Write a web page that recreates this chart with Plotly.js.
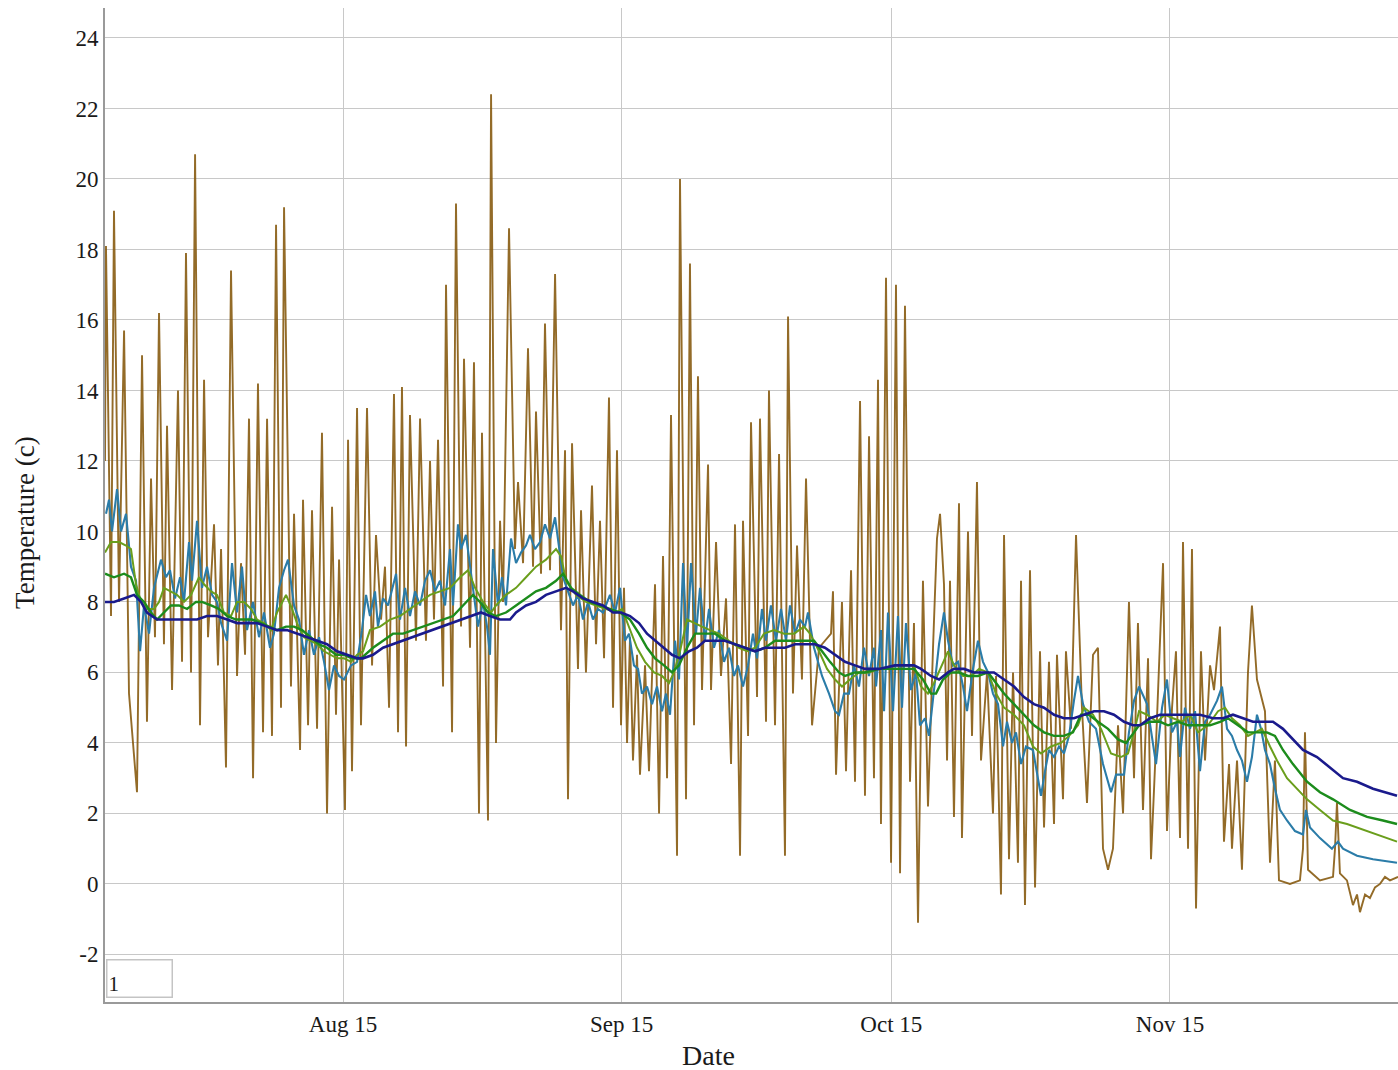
<!DOCTYPE html>
<html>
<head>
<meta charset="utf-8">
<script src="https://cdn.plot.ly/plotly-3.0.1.min.js"></script>
<style>html,body{margin:0;padding:0;background:#fff;}#chart{width:1398px;height:1070px;}</style>
</head>
<body>
<div id="chart"></div>
<script>
// Day numbers are days since 1 July (1 July 00:00 = 0)
const airDay = [18.52,18.63,19.19,19.52,20.08,20.64,21.19,22.08,22.64,23.19,23.64,24.08,24.53,25.08,25.42,25.98,26.64,27.09,27.53,28.09,28.54,29.09,29.54,29.98,30.65,31.09,31.43,31.98,32.54,33.21,33.65,34.10,34.54,34.99,35.54,36.10,36.55,37.10,37.55,38.10,38.44,39.21,39.55,40.22,40.55,41.11,41.55,42.11,42.66,43.22,43.78,44.22,44.56,45.22,45.56,46.00,46.56,47.00,47.67,48.23,48.67,49.23,49.67,50.12,50.67,51.12,51.56,52.01,52.45,53.12,53.57,54.23,54.68,55.12,55.57,56.13,56.46,57.13,57.57,58.13,58.46,59.13,59.57,60.13,60.46,61.13,61.47,62.02,62.47,62.80,63.47,64.13,64.47,65.03,65.58,66.14,66.47,67.03,67.47,68.03,68.59,69.25,69.70,70.03,70.48,71.14,71.48,72.03,72.70,73.15,73.59,74.04,74.59,75.04,75.48,75.93,76.26,76.60,76.93,77.26,77.71,78.04,78.60,79.04,79.71,80.16,80.60,81.05,81.49,82.16,82.49,83.16,83.60,84.05,84.49,84.94,85.61,85.94,86.50,87.05,87.61,88.17,88.61,89.17,89.50,90.06,90.39,91.06,91.39,92.06,92.39,93.06,93.51,94.17,94.51,95.06,95.51,96.06,96.51,97.18,97.96,99.29,99.51,99.85,100.51,100.96,101.52,101.96,102.52,103.07,103.52,104.07,104.52,104.85,105.41,105.97,106.52,106.97,107.52,108.08,108.52,108.97,109.52,110.08,110.64,111.08,111.42,111.86,112.20,112.53,112.97,113.53,113.86,114.53,114.98,115.53,115.98,116.65,117.31,117.65,118.20,118.54,119.09,119.54,120.09,120.43,120.87,121.43,121.99,122.54,122.99,123.54,124.10,124.43,125.10,125.43,125.99,126.55,127.21,127.77,128.44,128.99,129.55,130.11,130.66,131.22,131.78,132.44,133.00,133.44,134.00,134.56,134.89,135.45,136.23,136.67,137.23,137.67,138.12,138.45,139.01,139.45,139.90,140.45,140.90,141.46,141.90,142.57,143.01,143.57,143.90,144.46,145.01,145.68,146.12,146.68,147.57,148.13,148.68,149.13,150.35,151.46,151.80,152.02,152.36,153.69,155.14,155.36,155.58,155.91,156.69,157.36,157.81,158.14,158.70,159.25,159.81,160.37,160.92,161.48,162.37];
const airTemp = [12.0,18.1,7.6,19.1,8.0,15.7,5.4,2.6,15.0,4.6,11.5,7.0,16.2,6.8,13.0,5.5,14.0,6.3,17.9,6.0,20.7,4.5,14.3,7.0,10.2,6.2,9.5,3.3,17.4,5.9,9.1,6.5,13.2,3.0,14.2,4.3,13.2,4.2,18.7,5.0,19.2,5.6,10.5,3.8,10.9,4.5,10.6,4.4,12.8,2.0,10.7,4.8,9.2,2.1,12.6,3.2,13.5,4.5,13.5,6.2,9.9,7.5,9.0,5.0,13.9,4.3,14.1,3.9,13.3,6.9,13.2,6.9,12.0,7.5,12.6,5.6,17.0,4.3,19.3,7.3,14.9,6.7,14.8,2.0,12.8,1.8,22.4,4.0,10.3,8.0,18.6,9.5,11.4,9.1,15.2,9.0,13.4,8.8,15.9,8.9,17.3,7.2,12.3,2.4,12.5,6.1,10.6,6.0,11.3,6.8,10.3,6.4,13.8,5.0,12.3,4.5,8.4,4.0,7.0,3.5,6.5,3.1,6.2,3.2,8.5,2.0,9.3,3.0,13.3,0.8,20.0,2.4,17.6,4.5,14.4,5.5,11.9,5.5,9.7,5.9,8.1,3.4,10.2,0.8,10.3,4.2,13.1,5.3,13.2,4.6,14.0,4.5,12.2,0.8,16.1,5.4,9.6,5.8,11.5,4.5,6.7,7.1,8.3,3.1,8.0,3.2,8.9,2.9,13.7,2.5,12.7,3.0,14.3,1.7,17.2,0.6,17.0,0.3,16.4,2.9,7.4,-1.1,8.6,2.2,6.7,9.8,10.5,8.5,3.5,8.6,1.9,10.8,1.3,10.0,4.2,11.4,3.5,6.0,2.0,5.9,-0.3,9.9,0.7,6.0,0.6,8.6,-0.6,8.9,-0.1,6.6,1.6,6.3,1.7,6.5,2.4,6.6,4.4,9.9,5.0,2.3,6.5,6.7,1.0,0.4,1.0,4.5,2.0,8.0,3.0,7.4,2.1,6.4,0.7,4.0,9.1,1.5,5.0,6.6,1.3,9.7,1.0,9.5,-0.7,6.6,3.5,6.2,5.5,7.3,1.2,3.4,1.0,3.5,0.4,6.0,7.9,5.8,4.9,0.6,3.5,0.1,0.0,0.1,1.0,4.3,0.4,0.1,0.2,1.0,2.3,0.3,0.1,-0.6,-0.3,-0.8,-0.3,-0.4,-0.1,0.0,0.2,0.1,0.2];

const soil1Day = [18.63,18.97,19.30,19.86,20.30,20.86,21.41,21.97,22.42,22.86,23.42,23.97,24.75,25.31,25.75,26.31,26.87,27.31,27.87,28.20,28.76,29.31,29.87,30.43,30.98,31.43,32.10,32.65,33.21,33.76,34.32,34.99,35.66,36.21,36.88,37.32,37.88,38.44,38.88,39.55,40.10,40.66,41.22,41.77,42.33,42.89,43.44,44.00,44.56,45.11,45.89,46.56,47.11,47.56,48.00,48.56,48.89,49.45,50.01,50.90,51.34,51.90,52.45,53.01,53.57,54.12,54.68,55.24,55.79,56.35,56.90,57.24,57.79,58.13,58.68,59.13,59.69,60.02,60.58,61.02,61.35,61.69,62.24,62.69,63.13,63.69,64.25,64.80,65.36,65.80,66.36,66.92,67.47,68.03,68.59,69.03,69.48,70.03,70.59,71.14,71.70,72.26,72.81,73.37,73.93,74.70,75.26,75.82,76.37,76.82,77.37,77.82,78.26,78.82,79.38,79.93,80.49,80.93,81.38,81.94,82.38,82.83,83.27,83.72,84.27,84.72,85.27,85.72,86.27,86.83,87.39,87.94,88.50,88.94,89.50,90.06,90.61,91.06,91.61,92.06,92.61,93.17,93.73,94.28,94.73,95.29,95.84,96.40,96.73,97.40,98.29,99.07,99.74,100.18,100.74,101.29,101.85,102.40,102.96,103.52,104.07,104.30,104.85,105.19,105.63,106.19,106.74,107.19,107.63,108.19,108.75,109.19,109.75,110.19,110.75,111.31,111.86,112.31,112.86,113.42,113.98,114.42,115.09,115.64,116.20,116.76,117.31,117.87,118.43,118.87,119.43,119.87,120.43,120.98,121.76,122.21,122.65,123.10,123.54,124.10,124.65,125.21,125.77,126.32,126.77,127.33,127.99,128.77,129.55,130.44,131.00,131.89,132.44,133.00,133.56,134.45,135.45,136.12,136.67,137.23,137.79,138.12,138.67,139.23,139.79,140.34,140.90,141.46,142.24,142.79,143.35,143.90,144.46,145.01,145.57,146.12,146.68,147.13,147.57,148.13,148.68,149.24,150.02,150.91,151.80,152.13,152.58,153.69,155.02,155.69,156.25,157.81,159.59,162.26];
const soil1Temp = [10.5,10.9,10.0,11.2,10.0,10.5,9.0,8.6,6.6,7.9,7.1,8.4,9.2,8.7,8.9,8.1,8.7,8.0,9.7,8.6,10.3,8.4,9.0,8.2,8.0,7.4,6.9,9.1,7.7,9.0,7.2,8.0,7.0,7.7,6.7,7.1,8.4,8.9,9.2,7.9,7.5,6.5,7.2,6.5,7.0,6.3,5.5,6.2,5.9,5.8,6.2,6.3,7.2,8.2,7.6,8.3,7.3,8.1,7.9,8.8,7.5,8.4,7.6,8.3,7.9,8.6,8.9,8.3,8.6,7.9,9.5,7.9,10.2,9.5,9.9,9.0,8.0,7.3,8.0,7.3,6.5,9.5,7.9,8.7,7.9,9.8,9.1,9.4,9.6,9.9,9.5,9.7,10.2,9.8,10.4,9.5,8.7,8.3,7.9,8.2,7.5,8.0,7.5,7.8,7.7,8.2,7.7,8.4,6.9,7.1,6.2,6.1,5.4,5.6,5.1,5.6,4.9,5.4,4.8,6.9,5.8,9.1,6.7,9.1,7.1,8.4,6.9,7.8,6.7,7.2,6.3,6.7,5.9,6.2,5.6,6.2,7.1,6.4,7.8,6.9,7.9,6.9,7.8,6.9,7.9,7.1,7.5,7.3,7.7,6.7,5.9,5.4,4.9,4.8,5.4,5.4,6.2,5.6,6.7,5.9,6.7,5.6,7.2,4.9,7.7,4.9,7.6,5.0,7.4,5.5,6.0,4.5,4.7,4.2,5.6,6.8,7.7,6.9,6.2,6.3,5.6,4.9,6.1,6.9,6.3,6.0,5.4,5.1,3.9,4.6,4.0,4.3,3.4,3.9,3.8,3.1,2.5,3.2,3.8,3.6,3.9,3.7,4.2,5.2,5.9,5.1,4.6,4.4,3.4,2.6,3.1,3.1,4.3,5.2,5.6,5.1,3.4,5.0,5.8,4.3,4.6,3.6,5.0,4.4,4.9,3.2,4.6,4.8,5.2,5.6,4.4,4.2,3.8,3.5,2.9,3.6,4.8,4.4,3.8,3.4,2.7,2.1,1.8,1.5,1.4,2.1,1.6,1.3,1.0,1.2,1.0,0.8,0.7,0.6];

const soil2Day = [18.52,19.19,20.08,20.86,21.41,21.97,22.53,23.19,23.97,24.53,25.08,25.86,26.53,27.31,28.09,28.98,29.54,30.31,30.98,31.76,32.54,33.21,33.99,34.77,35.43,36.21,36.99,37.66,38.66,39.33,39.88,40.66,41.44,42.11,42.89,43.67,44.33,45.11,45.89,46.56,47.23,48.00,49.12,50.23,51.34,52.45,53.57,54.68,55.79,56.90,58.02,58.91,59.69,60.58,61.47,62.02,63.13,64.25,65.36,66.47,67.58,68.70,69.25,69.81,70.92,72.03,73.15,74.26,75.37,76.04,76.82,77.71,78.60,79.60,80.49,81.27,81.82,82.49,83.27,84.05,84.94,85.83,86.83,87.94,89.06,89.95,90.84,91.84,92.95,94.06,95.17,96.29,96.95,97.96,98.85,99.74,100.51,101.40,102.40,103.52,104.63,106.41,108.52,109.30,110.08,110.75,111.75,112.31,112.97,113.98,114.87,115.76,116.76,117.65,118.54,119.65,120.76,121.76,122.65,123.77,124.88,125.77,126.77,127.44,128.44,129.33,130.44,131.55,132.33,133.00,133.56,134.45,135.56,136.45,137.34,138.34,139.23,140.12,141.23,142.35,143.13,143.90,144.79,145.68,146.46,147.24,148.13,148.91,150.02,151.13,152.25,153.69,155.14,156.70,158.93,161.15,162.26];
const soil2Temp = [9.4,9.7,9.7,9.6,9.5,8.5,8.0,7.8,7.8,8.0,8.4,8.3,8.2,8.0,8.2,8.7,8.5,8.3,8.2,7.7,7.6,8.0,8.0,7.8,7.5,7.4,7.2,7.7,8.2,7.8,7.4,7.0,6.9,6.8,6.6,6.5,6.4,6.4,6.3,6.5,6.6,7.2,7.3,7.5,7.6,7.8,8.0,8.2,8.3,8.4,8.7,8.9,8.4,8.0,7.7,7.9,8.2,8.4,8.7,9.0,9.2,9.5,9.3,8.6,8.2,8.0,7.9,7.8,7.7,7.8,7.3,6.7,6.3,6.0,5.9,5.7,6.0,6.6,7.5,7.4,7.3,7.2,7.1,6.9,6.7,6.6,6.7,7.1,7.2,7.1,7.1,7.3,7.1,6.6,6.1,5.8,5.6,5.8,6.0,6.0,6.1,6.2,6.2,5.6,5.4,5.7,6.3,6.6,6.2,5.9,5.9,6.1,6.0,5.4,5.0,4.8,4.5,3.9,3.7,3.9,4.0,4.2,4.5,5.0,4.8,4.4,3.7,3.6,3.7,4.3,4.9,4.8,4.6,4.8,4.7,4.6,4.8,4.3,4.5,4.9,5.0,4.7,4.5,4.2,4.3,4.4,3.9,3.5,3.0,2.7,2.4,2.1,1.8,1.7,1.5,1.3,1.2];

const soil3Day = [18.52,19.52,20.64,21.41,22.08,22.86,23.64,24.31,25.08,25.86,26.76,27.65,28.65,29.31,30.31,31.21,32.10,33.10,33.99,34.88,35.88,36.77,37.66,38.66,39.55,40.44,41.44,42.33,43.22,44.22,45.11,46.00,47.00,48.34,49.45,50.56,51.68,52.79,53.90,55.01,56.13,57.24,58.35,59.46,60.24,61.13,62.02,63.13,64.25,65.36,66.47,67.58,68.70,69.48,70.37,71.37,72.48,73.59,74.70,75.81,76.93,77.93,78.82,79.71,80.71,81.60,82.38,83.27,84.16,85.27,86.39,87.50,88.61,89.72,90.84,91.95,93.06,94.17,95.29,96.40,97.40,98.29,99.18,100.18,100.85,101.96,103.07,104.63,106.41,108.52,109.52,110.41,110.97,111.75,112.64,113.53,114.53,115.64,116.76,117.65,118.54,119.65,120.76,121.87,122.99,124.10,125.21,126.21,127.10,127.99,128.99,130.11,131.22,132.11,133.00,133.56,134.78,135.90,136.79,137.90,139.01,140.12,141.46,142.57,143.46,144.57,145.68,146.68,147.79,148.68,149.57,150.68,152.25,153.69,155.14,157.03,158.93,160.70,162.26];
const soil3Temp = [8.8,8.7,8.8,8.7,8.2,8.0,7.7,7.5,7.7,7.9,7.9,7.8,8.0,8.0,7.9,7.8,7.6,7.5,7.5,7.5,7.4,7.3,7.2,7.3,7.3,7.2,7.0,6.8,6.7,6.5,6.5,6.4,6.4,6.7,6.9,7.1,7.1,7.2,7.3,7.4,7.5,7.6,7.9,8.2,8.0,7.7,7.6,7.7,7.9,8.1,8.3,8.4,8.6,8.8,8.4,8.2,8.0,7.9,7.8,7.7,7.5,7.1,6.7,6.4,6.2,6.0,6.2,6.7,7.1,7.1,7.1,6.9,6.8,6.7,6.6,6.7,6.9,6.9,6.9,6.9,6.9,6.6,6.3,6.0,5.9,6.0,6.0,6.1,6.1,6.1,5.8,5.4,5.4,5.8,6.0,6.0,5.9,5.9,6.0,5.7,5.4,5.1,4.8,4.5,4.3,4.2,4.2,4.3,4.8,4.8,4.6,4.4,4.1,4.0,4.3,4.5,4.6,4.6,4.5,4.6,4.5,4.5,4.5,4.6,4.7,4.5,4.3,4.3,4.3,4.2,3.8,3.4,2.9,2.6,2.4,2.1,1.9,1.8,1.7];

const soil4Day = [18.52,19.52,20.64,21.75,22.53,23.19,24.31,25.42,26.53,27.65,28.76,29.87,30.98,32.10,33.21,34.32,35.43,36.55,37.66,38.77,39.88,40.99,42.11,43.22,44.33,45.45,46.56,47.23,48.34,49.45,50.56,51.68,52.79,53.90,55.01,56.13,57.24,58.35,59.46,60.35,61.35,62.47,63.58,64.25,65.36,66.47,67.58,68.70,69.81,70.59,71.70,72.81,73.93,75.04,75.93,76.93,77.93,78.82,79.71,80.71,81.60,82.49,83.49,84.38,85.27,86.39,87.50,88.61,89.72,90.84,91.95,93.06,94.17,95.29,96.40,97.51,98.62,99.74,100.85,101.96,103.07,104.63,106.41,108.52,109.30,110.41,111.31,112.31,112.97,114.09,115.20,116.31,117.42,118.54,119.65,120.76,121.87,122.99,124.10,125.21,126.32,127.44,128.55,129.66,130.77,131.89,132.89,133.67,134.78,135.90,137.34,138.90,140.34,141.79,142.90,144.01,145.12,146.23,147.35,148.46,149.57,150.68,151.80,153.36,154.80,156.25,157.81,159.59,162.26];
const soil4Temp = [8.0,8.0,8.1,8.2,8.0,7.7,7.5,7.5,7.5,7.5,7.5,7.6,7.6,7.5,7.4,7.4,7.4,7.3,7.2,7.2,7.1,7.0,6.9,6.8,6.6,6.5,6.4,6.4,6.5,6.7,6.8,6.9,7.0,7.1,7.2,7.3,7.4,7.5,7.6,7.7,7.6,7.5,7.5,7.7,7.9,8.0,8.2,8.3,8.4,8.3,8.1,8.0,7.9,7.7,7.7,7.6,7.4,7.1,6.9,6.7,6.5,6.4,6.6,6.7,6.9,6.9,6.9,6.8,6.7,6.6,6.7,6.7,6.7,6.8,6.8,6.8,6.7,6.5,6.3,6.2,6.1,6.1,6.2,6.2,6.1,5.9,5.8,6.0,6.1,6.1,6.0,6.0,6.0,5.8,5.6,5.3,5.1,5.0,4.8,4.7,4.7,4.8,4.9,4.9,4.8,4.6,4.5,4.5,4.7,4.8,4.8,4.8,4.8,4.7,4.7,4.8,4.7,4.6,4.6,4.6,4.4,4.1,3.8,3.6,3.3,3.0,2.9,2.7,2.5];

const yTicks = [-2,0,2,4,6,8,10,12,14,16,18,20,22,24];
const yTickText = ['-2','0','2','4','6','8','10','12','14','16','18','20','22','24'];
const xTickDays = [45,76,106,137];   // Aug 15, Sep 15, Oct 15, Nov 15
const xRangeDays = [18.52,162.37];
const yRange = [-3.35,24.85];

function toDate(d){
  const ms = Date.UTC(2016,6,1) + d*86400000;
  return new Date(ms).toISOString().replace('T',' ').slice(0,19);
}
const conv = a => a.map(toDate);

const serif = 'Liberation Serif, Times New Roman, serif';

const traces = [
  {x: conv(airDay), y: airTemp, name:'Air', mode:'lines',
   line:{color:'rgba(132,86,10,0.88)', width:1.9}},
  {x: conv(soil1Day), y: soil1Temp, name:'Soil 1', mode:'lines',
   line:{color:'#2b7ca8', width:2.1}},
  {x: conv(soil2Day), y: soil2Temp, name:'Soil 2', mode:'lines',
   line:{color:'#6a9e1c', width:2}},
  {x: conv(soil3Day), y: soil3Temp, name:'Soil 3', mode:'lines',
   line:{color:'#1c8c1c', width:2.4}},
  {x: conv(soil4Day), y: soil4Temp, name:'Soil 4', mode:'lines',
   line:{color:'#1a1a8c', width:2.6}}
];

const layout = {
  width:1398, height:1070, autosize:false,
  margin:{l:105, r:0, t:8, b:68, pad:0},
  paper_bgcolor:'#ffffff', plot_bgcolor:'#ffffff',
  showlegend:false,
  font:{family:serif, color:'#1a1a1a'},
  xaxis:{
    type:'date', range: xRangeDays.map(toDate),
    tickvals: xTickDays.map(toDate), tickformat:'%b %d',
    tickfont:{family:serif, size:23, color:'#1a1a1a'},
    showgrid:true, gridcolor:'#c8c8c8', gridwidth:1,
    showline:true, linecolor:'#9a9a9a', linewidth:2,
    ticks:'', zeroline:false, ticklabelstandoff:0
  },
  yaxis:{
    range: yRange, tickvals: yTicks, ticktext: yTickText,
    tickfont:{family:serif, size:23, color:'#1a1a1a'},
    showgrid:true, gridcolor:'#c8c8c8', gridwidth:1,
    showline:true, linecolor:'#9a9a9a', linewidth:2,
    ticks:'', zeroline:false, ticklabelstandoff:0
  },
  annotations:[
    {text:'Date', xref:'paper', yref:'paper', x:0.4664, y:-0.0543,
     xanchor:'center', yanchor:'middle', showarrow:false,
     font:{family:serif, size:28, color:'#1a1a1a'}},
    {text:'Temperature (c)', xref:'paper', yref:'paper', x:-0.0619, y:0.4829,
     xanchor:'center', yanchor:'middle', textangle:-90, showarrow:false,
     font:{family:serif, size:27, color:'#1a1a1a'}},
    {text:'1', xref:'paper', yref:'paper', x:0.001, y:0.004,
     xanchor:'left', yanchor:'bottom', showarrow:false, align:'left', valign:'bottom',
     width:62, height:34, borderpad:1, bordercolor:'#c4c4c4', borderwidth:1.5,
     bgcolor:'#ffffff', font:{family:serif, size:21, color:'#1a1a1a'}}
  ]
};

Plotly.newPlot('chart', traces, layout, {displayModeBar:false, staticPlot:true});
</script>
</body>
</html>
